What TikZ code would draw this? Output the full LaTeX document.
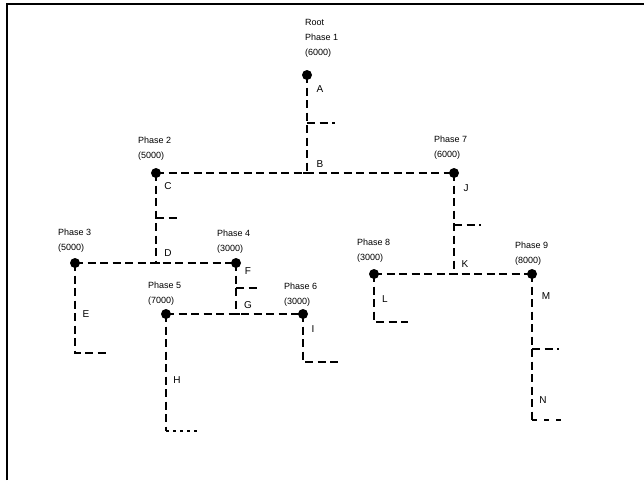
\documentclass[tikz,border=0pt]{standalone}
\usepackage{fontspec}
\setmainfont{Liberation Sans}
\begin{document}
\begin{tikzpicture}[x=1pt,y=-1pt,
  dline/.style={line width=2.4pt,dash pattern=on 8pt off 4.5pt},
  dotline/.style={line width=2.4pt,dash pattern=on 3pt off 4pt},
  thinline/.style={line width=1.2pt,dash pattern=on 5pt off 7pt},
  dotnode/.style={circle,fill=black,inner sep=0pt,minimum size=10pt},
  phasetext/.style={anchor=west,align=left,inner sep=0pt,font=\fontsize{9}{15}\selectfont},
  lbl/.style={inner sep=0pt,font=\fontsize{10}{11}\selectfont}]
\useasboundingbox (0,0) rectangle (644,480);
\draw[line width=1.5pt] (7,480) -- (7,4) -- (644,4);

% phase dots
\node[dotnode] (p1) at (307,75) {};
\node[dotnode] (p2) at (156,173) {};
\node[dotnode] (p7) at (454,173) {};
\node[dotnode] (p3) at (75,263) {};
\node[dotnode] (p4) at (236,263) {};
\node[dotnode] (p5) at (166,314) {};
\node[dotnode] (p6) at (303,314) {};
\node[dotnode] (p8) at (374,274) {};
\node[dotnode] (p9) at (532,274) {};

% junctions and ends
\coordinate (jb) at (307,173);
\coordinate (jd) at (156,263);
\coordinate (jg) at (236,314);
\coordinate (jk) at (454,274);
\coordinate (sa0) at (307,123); \coordinate (sa1) at (335,123);
\coordinate (sc0) at (156,218); \coordinate (sc1) at (180,218);
\coordinate (sf0) at (236,288); \coordinate (sf1) at (258,288);
\coordinate (sj0) at (454,225); \coordinate (sj1) at (481,225);
\coordinate (sm0) at (532,349); \coordinate (sm1) at (559,349);
\coordinate (ee) at (108,353);
\coordinate (hc) at (166,431); \coordinate (he) at (200,431);
\coordinate (ie) at (340,362);
\coordinate (le) at (408,322);
\coordinate (nc) at (532,420); \coordinate (ne) at (568,420);

% texts
\node[phasetext] (t1) at (305,38) {Root\\Phase 1\\(6000)};
\node[phasetext] (t2) at (138,149) {Phase 2\\(5000)};
\node[phasetext] (t3) at (58,241) {Phase 3\\(5000)};
\node[phasetext] (t4) at (217,242) {Phase 4\\(3000)};
\node[phasetext] (t5) at (148,294) {Phase 5\\(7000)};
\node[phasetext] (t6) at (284,295) {Phase 6\\(3000)};
\node[phasetext] (t7) at (434,148) {Phase 7\\(6000)};
\node[phasetext] (t8) at (357,251) {Phase 8\\(3000)};
\node[phasetext] (t9) at (515,254) {Phase 9\\(8000)};

% edge labels
\node[lbl] (la) at (320,89) {A};
\node[lbl] (lb) at (320,164) {B};
\node[lbl] (lc) at (168,186) {C};
\node[lbl] (ld) at (168,253) {D};
\node[lbl] (le2) at (86,314) {E};
\node[lbl] (lf) at (248,271) {F};
\node[lbl] (lg) at (248,305) {G};
\node[lbl] (lh) at (177,380) {H};
\node[lbl] (li) at (313,329) {I};
\node[lbl] (lj) at (466,188) {J};
\node[lbl] (lk) at (465,264) {K};
\node[lbl] (ll) at (385,299) {L};
\node[lbl] (lm) at (546,296) {M};
\node[lbl] (ln) at (543,400) {N};

% connectors
\draw[dline] (p1.center) -- (jb);
\draw[dline] (p2.center) -- (p7.center);
\draw[dline] (sa0) -- (sa1);
\draw[dline] (p2.center) -- (jd);
\draw[dline] (sc0) -- (sc1);
\draw[dline] (p3.center) -- (p4.center);
\draw[dline] (p4.center) -- (jg);
\draw[dline] (sf0) -- (sf1);
\draw[dline] (p5.center) -- (p6.center);
\draw[dline] (p3.center) |- (ee);
\draw[dline] (p5.center) -- (hc);
\draw[dotline] (hc) -- (he);
\draw[dline] (p6.center) |- (ie);
\draw[dline] (p7.center) -- (jk);
\draw[dline] (sj0) -- (sj1);
\draw[dline] (p8.center) -- (p9.center);
\draw[dline] (p8.center) |- (le);
\draw[dline] (p9.center) -- (nc);
\draw[dline] (sm0) -- (sm1);
\draw[thinline] (nc) -- (ne);
% junction ticks
\draw[line width=1.6pt] ([xshift=-4pt]jb) -- ([xshift=4pt]jb);
\draw[line width=1.6pt] ([xshift=-4pt]jd) -- ([xshift=4pt]jd);
\draw[line width=1.6pt] ([xshift=-4pt]jg) -- ([xshift=4pt]jg);
\draw[line width=1.6pt] ([xshift=-4pt]jk) -- ([xshift=4pt]jk);
\end{tikzpicture}
\end{document}
